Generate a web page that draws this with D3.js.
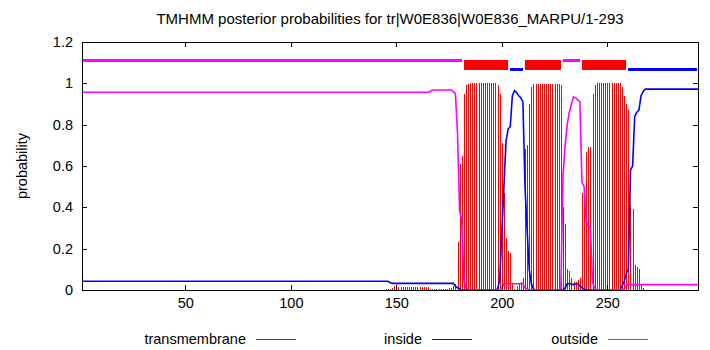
<!DOCTYPE html>
<html>
<head>
<meta charset="utf-8">
<script src="https://cdn.jsdelivr.net/npm/d3@7"></script>
<style>
body { margin: 0; background: #fff; }
svg { display: block; font-family: "Liberation Sans", Arial, sans-serif; }
</style>
</head>
<body>
<div id="chart"></div>
<script>
// TMHMM posterior plot, one value per residue (1..293)

const FRAME_WIDTH = 710;
const FRAME_HEIGHT = 350;
const MARGINS = {left: 82, right: 12, top: 42, bottom: 60};

const residues = d3.range(1, 294);

// transmembrane (red impulses)
const tmProb = [
  0,0,0,0,0,0,0,0,0,0,            // 1
  0,0,0,0,0,0,0,0,0,0,
  0,0,0,0,0,0,0,0,0,0,
  0,0,0,0,0,0,0,0,0,0,
  0,0,0,0,0,0,0,0,0,0,
  0,0,0,0,0,0,0,0,0,0,            // 51
  0,0,0,0,0,0,0,0,0,0,
  0,0,0,0,0,0,0,0,0,0,
  0,0,0,0,0,0,0,0,0,0,
  0,0,0,0,0,0,0,0,0,0,
  0,0,0,0,0,0,0,0,0,0,            // 101
  0,0,0,0,0,0,0,0,0,0,
  0,0,0,0,0,0,0,0,0,0,
  0,0,0,0,0,0,0,0,0,0,
  0,0,0,0,0.006,0.006,0.006,0.012,0.02,0.016,
  0.016,0.016,0.016,0.016,0.016,0.016,0.016,0.016,0.016,0.016,   // 151
  0.016,0.016,0.016,0.016,0.016,0.006,0.006,0.006,0.006,0.006,
  0.006,0.006,0.006,0.006,0.008,0.012,0.02,0.03,0.23,0.61,
  0.65,0.95,0.99,0.995,1,1,1,1,1,1,
  1,1,1,1,1,1,1,0.99,0.95,0.71,
  0.47,0.25,0.19,0.18,0.03,0.005,0.02,0.035,0.04,0.06,          // 201
  0.68,0.70,0.90,0.98,0.997,0.997,0.997,0.997,0.997,0.997,
  0.997,0.997,0.997,0.997,0.997,0.997,0.997,0.99,0.40,0.32,
  0.10,0.09,0.06,0.04,0.04,0.05,0.06,0.47,0.47,0.67,
  0.69,0.69,0.95,0.99,1,1,1,1,1,1,
  1,1,1,1,1,1,0.98,0.94,0.90,0.87,                              // 251
  0.41,0.39,0.12,0.11,0.10,0.03,0.01,0,0,0,
  0,0,0,0,0,0,0,0,0,0,
  0,0,0,0,0,0,0,0,0,0,
  0,0,0
];

// inside (blue line)
const insideProb = [
  0.042,0.042,0.042,0.042,0.042,0.042,0.042,0.042,0.042,0.042,  // 1
  0.042,0.042,0.042,0.042,0.042,0.042,0.042,0.042,0.042,0.042,
  0.042,0.042,0.042,0.042,0.042,0.042,0.042,0.042,0.042,0.042,
  0.042,0.042,0.042,0.042,0.042,0.042,0.042,0.042,0.042,0.042,
  0.042,0.042,0.042,0.042,0.042,0.042,0.042,0.042,0.042,0.042,
  0.042,0.042,0.042,0.042,0.042,0.042,0.042,0.042,0.042,0.042,  // 51
  0.042,0.042,0.042,0.042,0.042,0.042,0.042,0.042,0.042,0.042,
  0.042,0.042,0.042,0.042,0.042,0.042,0.042,0.042,0.042,0.042,
  0.042,0.042,0.042,0.042,0.042,0.042,0.042,0.042,0.042,0.042,
  0.042,0.042,0.042,0.042,0.042,0.042,0.042,0.042,0.042,0.042,
  0.042,0.042,0.042,0.042,0.042,0.042,0.042,0.042,0.042,0.042,  // 101
  0.042,0.042,0.042,0.042,0.042,0.042,0.042,0.042,0.042,0.042,
  0.042,0.042,0.042,0.042,0.042,0.042,0.042,0.042,0.042,0.042,
  0.042,0.042,0.042,0.042,0.042,0.042,0.042,0.042,0.042,0.042,
  0.042,0.042,0.042,0.042,0.042,0.042,0.036,0.032,0.032,0.032,
  0.032,0.032,0.032,0.032,0.032,0.032,0.032,0.032,0.032,0.032,  // 151
  0.032,0.032,0.032,0.032,0.032,0.032,0.032,0.032,0.032,0.032,
  0.032,0.032,0.032,0.032,0.032,0.032,0.032,0.02,0.01,0.005,
  0,0,0,0,0,0,0,0,0,0,
  0,0,0,0,0,0,0,0.005,0.05,0.28,
  0.50,0.72,0.78,0.79,0.94,0.965,0.955,0.94,0.93,0.91,          // 201
  0.50,0.29,0.10,0.03,0.005,0,0,0,0,0,
  0,0,0,0,0,0,0,0,0,0.01,
  0.03,0.03,0.03,0.025,0.03,0.03,0.02,0.01,0.005,0,
  0,0,0,0,0,0,0,0,0,0,
  0,0,0,0,0,0,0.02,0.04,0.08,0.10,                              // 251
  0.58,0.60,0.84,0.86,0.87,0.94,0.96,0.972,0.972,0.972,
  0.972,0.972,0.972,0.972,0.972,0.972,0.972,0.972,0.972,0.972,
  0.972,0.972,0.972,0.972,0.972,0.972,0.972,0.972,0.972,0.972,
  0.972,0.972,0.972
];

// outside (magenta line)
const outsideProb = [
  0.957,0.957,0.957,0.957,0.957,0.957,0.957,0.957,0.957,0.957,  // 1
  0.957,0.957,0.957,0.957,0.957,0.957,0.957,0.957,0.957,0.957,
  0.957,0.957,0.957,0.957,0.957,0.957,0.957,0.957,0.957,0.957,
  0.957,0.957,0.957,0.957,0.957,0.957,0.957,0.957,0.957,0.957,
  0.957,0.957,0.957,0.957,0.957,0.957,0.957,0.957,0.957,0.957,
  0.957,0.957,0.957,0.957,0.957,0.957,0.957,0.957,0.957,0.957,  // 51
  0.957,0.957,0.957,0.957,0.957,0.957,0.957,0.957,0.957,0.957,
  0.957,0.957,0.957,0.957,0.957,0.957,0.957,0.957,0.957,0.957,
  0.957,0.957,0.957,0.957,0.957,0.957,0.957,0.957,0.957,0.957,
  0.957,0.957,0.957,0.957,0.957,0.957,0.957,0.957,0.957,0.957,
  0.957,0.957,0.957,0.957,0.957,0.957,0.957,0.957,0.957,0.957,  // 101
  0.957,0.957,0.957,0.957,0.957,0.957,0.957,0.957,0.957,0.957,
  0.957,0.957,0.957,0.957,0.957,0.957,0.957,0.957,0.957,0.957,
  0.957,0.957,0.957,0.957,0.957,0.957,0.957,0.957,0.957,0.957,
  0.957,0.957,0.957,0.957,0.957,0.957,0.957,0.957,0.957,0.957,
  0.957,0.957,0.957,0.957,0.957,0.957,0.957,0.957,0.957,0.957,  // 151
  0.957,0.957,0.957,0.957,0.957,0.96,0.968,0.968,0.968,0.968,
  0.968,0.968,0.968,0.968,0.968,0.968,0.96,0.95,0.76,0.38,
  0.34,0.05,0.01,0.005,0,0,0,0,0,0,
  0,0,0,0,0,0,0,0,0,0.01,
  0.03,0.03,0.03,0.03,0.03,0.03,0.03,0.03,0.03,0.03,            // 201
  0.01,0.005,0,0,0,0,0,0,0,0,
  0,0,0,0,0,0,0,0.01,0.55,0.70,
  0.80,0.86,0.90,0.935,0.93,0.92,0.91,0.52,0.50,0.33,
  0.31,0.30,0.04,0.01,0,0,0,0,0,0,
  0,0,0,0,0,0,0,0.005,0.02,0.03,                                // 251
  0.026,0.026,0.026,0.026,0.026,0.026,0.026,0.026,0.026,0.026,
  0.026,0.026,0.026,0.026,0.026,0.026,0.026,0.026,0.026,0.026,
  0.026,0.026,0.026,0.026,0.026,0.026,0.026,0.026,0.026,0.026,
  0.026,0.026,0.026
];

// predicted topology drawn above the curves
const topoType  = ["outside", "TMhelix", "inside", "TMhelix", "outside", "TMhelix", "inside"];
const topoStart = [1, 182, 204, 211, 229, 238, 260];
const topoEnd   = [181, 203, 210, 228, 237, 259, 293];

const xTicks = [50, 100, 150, 200, 250];
const yTicks = [0, 0.2, 0.4, 0.6, 0.8, 1, 1.2];
const legendNames = ["transmembrane", "inside", "outside"];

const COLORS = {TMhelix: "#ff0000", inside: "#0000ff", outside: "#ff00ff"};
const legendColors = ["#ff0000", "#0000ff", "#ff00ff"];

const FRAME = d3.select("#chart")
  .append("svg")
  .attr("width", FRAME_WIDTH)
  .attr("height", FRAME_HEIGHT);

const X_SCALE = d3.scaleLinear()
  .domain([1, 293])
  .range([MARGINS.left, FRAME_WIDTH - MARGINS.right]);

const Y_SCALE = d3.scaleLinear()
  .domain([0, 1.2])
  .range([FRAME_HEIGHT - MARGINS.bottom, MARGINS.top]);

// impulses for transmembrane
FRAME.append("g")
  .selectAll("rect")
  .data(residues)
  .enter()
  .append("rect")
    .attr("x", d => Math.round(X_SCALE(d)))
    .attr("width", 1)
    .attr("y", (d, i) => Y_SCALE(tmProb[i]))
    .attr("height", (d, i) => Y_SCALE(0) - Y_SCALE(tmProb[i]))
    .attr("fill", COLORS.TMhelix)
    .attr("shape-rendering", "crispEdges");

// inside / outside lines
const line = (arr) => d3.line()
  .x((d, i) => X_SCALE(residues[i]))
  .y(d => Y_SCALE(d))(arr);

FRAME.append("path")
  .attr("d", line(insideProb))
  .attr("fill", "none")
  .attr("stroke", COLORS.inside)
  .attr("stroke-width", 1.6);

FRAME.append("path")
  .attr("d", line(outsideProb))
  .attr("fill", "none")
  .attr("stroke", COLORS.outside)
  .attr("stroke-width", 1.6);

// topology bars at the top
const topoY = {outside: 1.11, inside: 1.068, TMhelix: 1.0895};
FRAME.append("g")
  .selectAll("rect")
  .data(topoType)
  .enter()
  .append("rect")
    .attr("x", (d, i) => X_SCALE(Math.max(1, topoStart[i] - 0.5)) + 1)
    .attr("width", (d, i) => X_SCALE(Math.min(293, topoEnd[i] + 0.5)) - X_SCALE(Math.max(1, topoStart[i] - 0.5)) - 2)
    .attr("y", d => d === "TMhelix" ? Y_SCALE(topoY[d]) - 5 : Y_SCALE(topoY[d]) - 1.5)
    .attr("height", d => d === "TMhelix" ? 10 : 3)
    .attr("fill", d => COLORS[d])
    .attr("shape-rendering", "crispEdges");

// axes: labels bottom and left, mirrored ticks top and right
const fontSize = "14.5px";

const xAxis = FRAME.append("g")
  .attr("transform", "translate(0," + Y_SCALE(0) + ")")
  .call(d3.axisBottom(X_SCALE).tickValues(xTicks).tickSize(-5).tickPadding(8));

const yAxis = FRAME.append("g")
  .attr("transform", "translate(" + X_SCALE(1) + ",0)")
  .call(d3.axisLeft(Y_SCALE).tickValues(yTicks).tickSize(-5).tickPadding(9).tickFormat(d => String(d)));

const xTop = FRAME.append("g")
  .attr("transform", "translate(0," + Y_SCALE(1.2) + ")")
  .call(d3.axisTop(X_SCALE).tickValues(xTicks).tickSize(-5).tickFormat(""));

const yRight = FRAME.append("g")
  .attr("transform", "translate(" + X_SCALE(293) + ",0)")
  .call(d3.axisRight(Y_SCALE).tickValues(yTicks).tickSize(-5).tickFormat(""));

[xAxis, yAxis, xTop, yRight].forEach(g => {
  g.select(".domain").remove();
  g.attr("font-family", null).attr("font-size", fontSize);
  g.selectAll("text").attr("fill", "#000");
  g.selectAll("line").attr("stroke", "#000").attr("shape-rendering", "crispEdges");
});

// frame
FRAME.append("rect")
  .attr("x", Math.round(X_SCALE(1)) + 0.5)
  .attr("y", Math.round(Y_SCALE(1.2)) + 0.5)
  .attr("width", Math.round(X_SCALE(293)) - Math.round(X_SCALE(1)))
  .attr("height", Math.round(Y_SCALE(0)) - Math.round(Y_SCALE(1.2)))
  .attr("fill", "none")
  .attr("stroke", "#000")
  .attr("shape-rendering", "crispEdges");

// title and y label
FRAME.append("text")
  .attr("x", (X_SCALE(1) + X_SCALE(293)) / 2)
  .attr("y", 24)
  .attr("text-anchor", "middle")
  .attr("font-size", "15px")
  .text("TMHMM posterior probabilities for tr|W0E836|W0E836_MARPU/1-293");

FRAME.append("text")
  .attr("transform", "translate(27,166) rotate(-90)")
  .attr("text-anchor", "middle")
  .attr("font-size", fontSize)
  .text("probability");

// legend
const legendEnd = [246, 422, 598];
const legend = FRAME.append("g")
  .selectAll("g")
  .data(legendNames)
  .enter()
  .append("g");

legend.append("text")
  .attr("x", (d, i) => legendEnd[i])
  .attr("y", 344)
  .attr("text-anchor", "end")
  .attr("font-size", fontSize)
  .text(d => d);

legend.append("rect")
  .attr("x", (d, i) => legendEnd[i] + 10)
  .attr("width", 40)
  .attr("y", 339)
  .attr("height", 1)
  .attr("fill", (d, i) => legendColors[i])
  .attr("shape-rendering", "crispEdges");
</script>
</body>
</html>
